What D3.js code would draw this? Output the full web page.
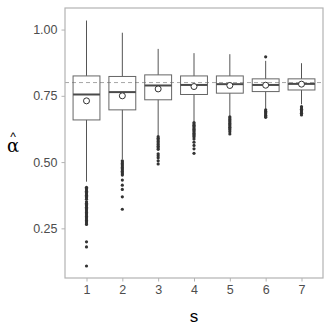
<!DOCTYPE html>
<html>
<head>
<meta charset="utf-8">
<script src="https://cdn.jsdelivr.net/npm/d3@7"></script>
<style>
  html, body { margin: 0; padding: 0; background: #fff; overflow: hidden; }
  svg { display: block; font-family: 'Liberation Sans', Arial, sans-serif; }
</style>
</head>
<body>
<div id="chart"></div>
<script>
/* Data */
const categories = [1, 2, 3, 4, 5, 6, 7];
const whiskerHigh = [1.034, 0.988, 0.927, 0.911, 0.907, 0.882, 0.873];
const upperQuartile = [0.825, 0.823, 0.829, 0.825, 0.825, 0.814, 0.814];
const medians = [0.755, 0.764, 0.789, 0.791, 0.794, 0.791, 0.795];
const lowerQuartile = [0.659, 0.697, 0.735, 0.755, 0.760, 0.766, 0.772];
const whiskerLow = [0.426, 0.511, 0.600, 0.653, 0.674, 0.700, 0.718];
const means = [0.731, 0.750, 0.776, 0.785, 0.789, 0.790, 0.794];
const outliers = [
  [0.405, 0.400, 0.395, 0.390, 0.385, 0.380, 0.375, 0.370, 0.365, 0.360,
    0.350, 0.345, 0.340, 0.335, 0.330, 0.325, 0.320, 0.315, 0.310, 0.305,
    0.300, 0.295, 0.290, 0.285, 0.280, 0.275, 0.270, 0.265, 0.199, 0.180, 0.108],
  [0.505, 0.500, 0.495, 0.490, 0.485, 0.480, 0.475, 0.470, 0.465, 0.460,
    0.455, 0.451, 0.432, 0.413, 0.397, 0.369, 0.322],
  [0.596, 0.590, 0.584, 0.578, 0.572, 0.566, 0.560, 0.554, 0.548, 0.531,
    0.524, 0.516, 0.505, 0.493],
  [0.649, 0.644, 0.639, 0.634, 0.629, 0.624, 0.619, 0.614, 0.609, 0.604,
    0.599, 0.595, 0.587, 0.575, 0.563, 0.550, 0.533],
  [0.671, 0.666, 0.661, 0.656, 0.651, 0.646, 0.641, 0.636, 0.631, 0.626,
    0.621, 0.614, 0.606],
  [0.897, 0.697, 0.692, 0.687, 0.682, 0.677, 0.672, 0.669],
  [0.709, 0.704, 0.699, 0.694, 0.689, 0.684, 0.678]
];
const yTicks = [0.25, 0.50, 0.75, 1.00];
const referenceValue = 0.8;

const W = 332;
const H = 332;
const margin = { top: 8, right: 9, bottom: 54, left: 65 };
const innerWidth = W - margin.left - margin.right;
const innerHeight = H - margin.top - margin.bottom;

const boxes = categories.map((s, i) => ({
  s,
  hi: whiskerHigh[i],
  q3: upperQuartile[i],
  med: medians[i],
  q1: lowerQuartile[i],
  lo: whiskerLow[i],
  mean: means[i],
  out: outliers[i]
}));

const svg = d3.select('#chart')
  .append('svg')
  .attr('width', W)
  .attr('height', H);

const chart = svg.append('g')
  .attr('transform', `translate(${margin.left},${margin.top})`);

// discrete axis with ggplot-like 0.6 expansion on each side
const x = d3.scaleLinear()
  .domain([0.4, categories.length + 0.6])
  .range([0, innerWidth]);

const y = d3.scaleLinear()
  .domain([0.0627, 1.0813])
  .range([innerHeight, 0]);

const boxWidth = x(0.75) - x(0);

// reference line
chart.append('line')
  .attr('x1', 0)
  .attr('x2', innerWidth)
  .attr('y1', y(referenceValue))
  .attr('y2', y(referenceValue))
  .attr('stroke', '#a6a6a6')
  .attr('stroke-width', 1)
  .attr('stroke-dasharray', '4,3');

const g = chart.selectAll('g.box')
  .data(boxes)
  .join('g')
  .attr('class', 'box');

// whiskers
g.append('line')
  .attr('x1', (d) => x(d.s))
  .attr('x2', (d) => x(d.s))
  .attr('y1', (d) => y(d.hi))
  .attr('y2', (d) => y(d.q3))
  .attr('stroke', '#555')
  .attr('stroke-width', 1);

g.append('line')
  .attr('x1', (d) => x(d.s))
  .attr('x2', (d) => x(d.s))
  .attr('y1', (d) => y(d.q1))
  .attr('y2', (d) => y(d.lo))
  .attr('stroke', '#555')
  .attr('stroke-width', 1);

// boxes
g.append('rect')
  .attr('x', (d) => x(d.s) - boxWidth / 2)
  .attr('width', boxWidth)
  .attr('y', (d) => y(d.q3))
  .attr('height', (d) => y(d.q1) - y(d.q3))
  .attr('fill', 'none')
  .attr('stroke', '#666')
  .attr('stroke-width', 1);

// medians
g.append('line')
  .attr('x1', (d) => x(d.s) - boxWidth / 2)
  .attr('x2', (d) => x(d.s) + boxWidth / 2)
  .attr('y1', (d) => y(d.med))
  .attr('y2', (d) => y(d.med))
  .attr('stroke', '#4a4a4a')
  .attr('stroke-width', 2);

// outliers
g.selectAll('circle.out')
  .data((d) => d.out.map((v) => ({ s: d.s, v })))
  .join('circle')
  .attr('class', 'out')
  .attr('cx', (d) => x(d.s))
  .attr('cy', (d) => y(d.v))
  .attr('r', 1.6)
  .attr('fill', '#333');

// means
g.append('circle')
  .attr('cx', (d) => x(d.s))
  .attr('cy', (d) => y(d.mean))
  .attr('r', 3)
  .attr('fill', '#fff')
  .attr('stroke', '#333')
  .attr('stroke-width', 1);

// panel border
chart.append('rect')
  .attr('x', 0)
  .attr('y', 0)
  .attr('width', innerWidth)
  .attr('height', innerHeight)
  .attr('fill', 'none')
  .attr('stroke', '#b3b3b3')
  .attr('stroke-width', 1.2);

// axes
const xAxis = chart.append('g')
  .attr('transform', `translate(0,${innerHeight})`)
  .call(d3.axisBottom(x).tickValues(categories).tickFormat(d3.format('d'))
    .tickSize(3.5).tickPadding(4));

const yAxis = chart.append('g')
  .call(d3.axisLeft(y).tickValues(yTicks).tickFormat(d3.format('.2f'))
    .tickSize(3.5).tickPadding(4));

[xAxis, yAxis].forEach((a) => {
  a.select('.domain').remove();
  a.selectAll('line').attr('stroke', '#b3b3b3');
  a.selectAll('text')
    .attr('fill', '#4d4d4d')
    .style('font-size', '12.5px')
    .style('font-family', "'Liberation Sans', Arial, sans-serif");
});

// axis titles
svg.append('text')
  .attr('x', margin.left + innerWidth / 2)
  .attr('y', 322)
  .attr('text-anchor', 'middle')
  .style('font-size', '17px')
  .attr('fill', '#000')
  .text('s');

// alpha with a hat drawn above it, kept in one text element
const yTitle = svg.append('text')
  .attr('text-anchor', 'middle')
  .attr('fill', '#000');

yTitle.append('tspan')
  .attr('x', 13)
  .attr('y', 141)
  .style('font-size', '12px')
  .text('^');

yTitle.append('tspan')
  .attr('x', 13)
  .attr('y', 152)
  .style('font-size', '18px')
  .style('font-family', "'DejaVu Serif', serif")
  .text('\u03B1');
</script>
</body>
</html>
